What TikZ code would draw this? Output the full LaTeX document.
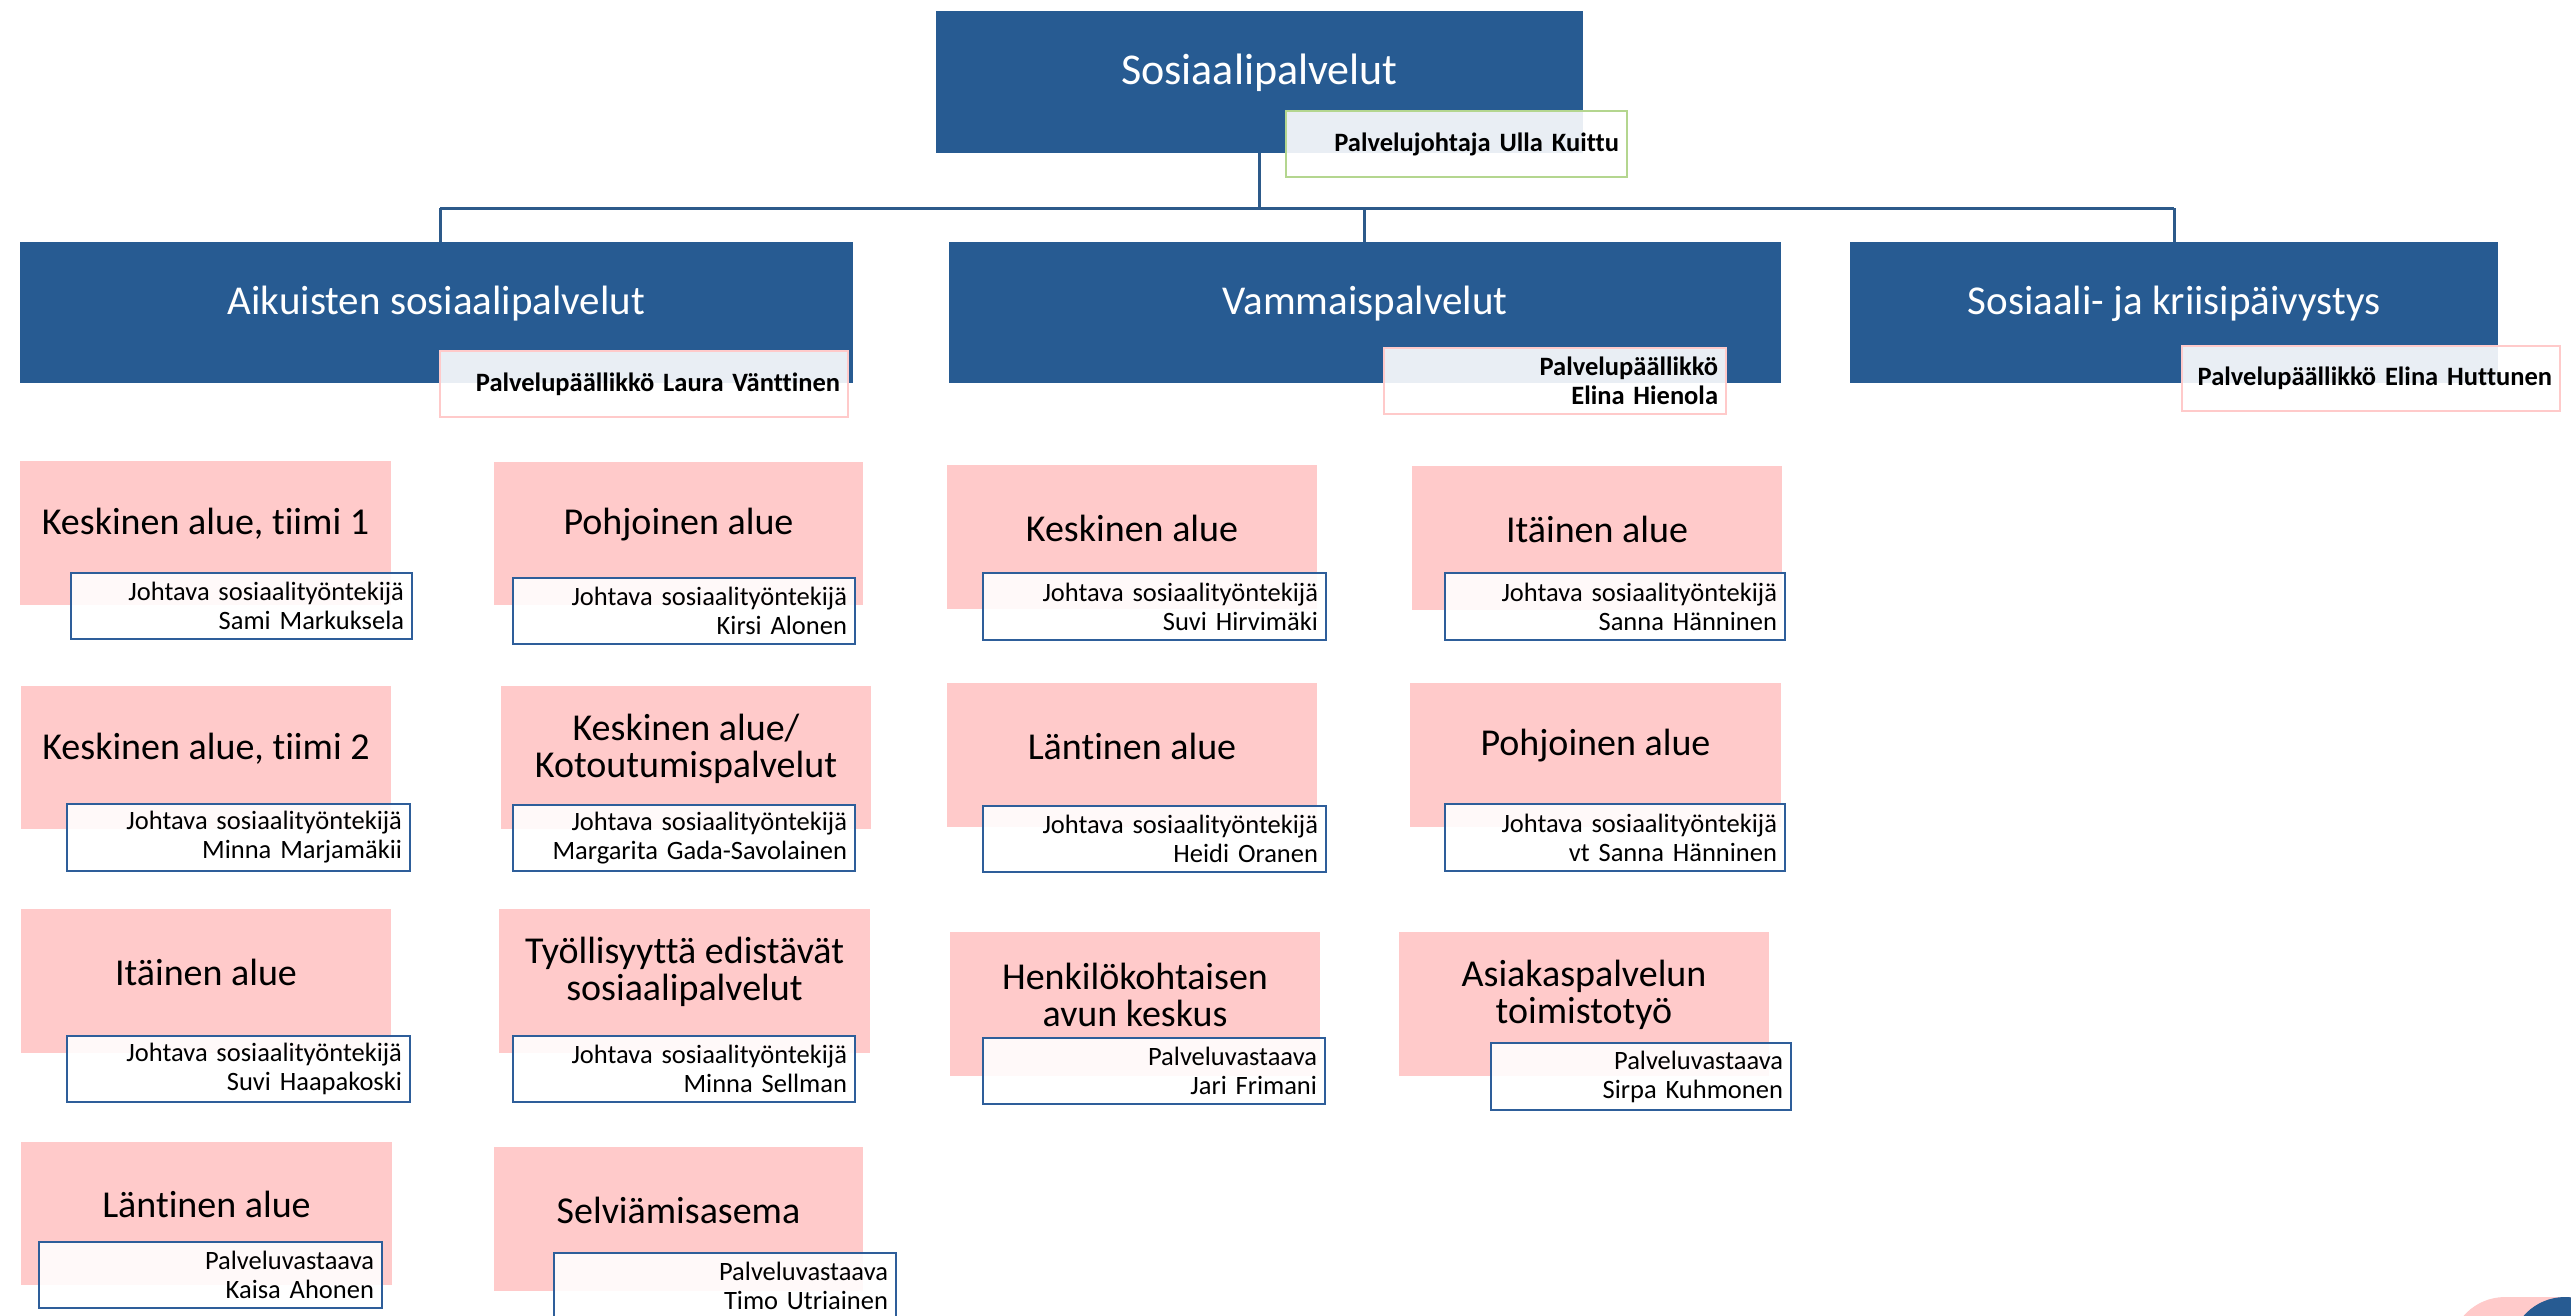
\documentclass[tikz,border=0pt]{standalone}
\usepackage{fontspec}
\setmainfont{Carlito}[Ligatures=NoCommon]
\definecolor{blueC}{HTML}{275B92}
\definecolor{pinkC}{HTML}{FFCACA}
\definecolor{greenC}{HTML}{B4D68F}
\definecolor{lblBlue}{HTML}{2E5E9A}
\definecolor{connC}{HTML}{2D5A8A}
\tikzset{
  bluebox/.style={fill=blueC, draw=none, inner sep=0pt},
  pinkbox/.style={fill=pinkC, draw=none, inner sep=0pt},
  btitle/.style={text=white, font=\fontsize{41}{40}\selectfont, align=center, inner sep=0pt},
  ptitle/.style={text=black, font=\fontsize{38}{37}\selectfont, align=center, inner sep=0pt},
  lblbox/.style={draw=lblBlue, line width=2.5pt, fill=white, fill opacity=0.9, text opacity=1,
    inner xsep=8pt, inner ysep=0pt, align=right, font=\fontsize{26.5}{29}\selectfont},
  boldlbl/.style={line width=2.5pt, fill=white, fill opacity=0.9, text opacity=1,
    inner xsep=8pt, inner ysep=0pt, align=right, font=\bfseries\fontsize{26.5}{29}\selectfont},
  conn/.style={draw=connC, line width=3pt}
}
\newcommand\mkbox[6]{% style, name, x1,y1,x2,y2
  \pgfmathsetmacro\myW{#5-#3}\pgfmathsetmacro\myH{#6-#4}%
  \pgfmathsetmacro\myX{(#3+#5)/2}\pgfmathsetmacro\myY{(#4+#6)/2}%
  \node[#1, minimum width=\myW pt, minimum height=\myH pt] (#2) at (\myX,\myY) {};}
\newcommand\mktitle[4]{% style, name, box, text
  \path (#3.center) ++(0,-9) node[#1] (#2) {#4};}
\newcommand\mklbl[7]{% style, name, x1,y1,x2,y2, text
  \pgfmathsetmacro\myW{#5-#3}\pgfmathsetmacro\myH{#6-#4}%
  \pgfmathsetmacro\myT{#5-#3-16}%
  \pgfmathsetmacro\myX{(#3+#5)/2}\pgfmathsetmacro\myY{(#4+#6)/2}%
  \node[#1, minimum width=\myW pt, minimum height=\myH pt, text width=\myT pt] (#2) at (\myX,\myY) {#7};}
\begin{document}
\begin{tikzpicture}[x=1pt,y=-1pt]
\useasboundingbox (0,0) rectangle (2571,1315);
% top
\mkbox{bluebox}{top}{936}{11}{1583}{153}
\mktitle{btitle,font=\fontsize{44}{42}\selectfont}{topt}{top}{Sosiaalipalvelut}
\mklbl{boldlbl,draw=greenC}{topl}{1286}{111}{1627}{177}{Palvelujohtaja Ulla Kuittu}
% level 2
\mkbox{bluebox}{A}{20}{242}{853}{383}
\mktitle{btitle}{At}{A}{Aikuisten sosiaalipalvelut}
\mkbox{bluebox}{V}{949}{242}{1781}{383}
\mktitle{btitle}{Vt}{V}{Vammaispalvelut}
\mkbox{bluebox}{S}{1850}{242}{2498}{383}
\mktitle{btitle}{St}{S}{Sosiaali- ja kriisipäivystys}
\mklbl{boldlbl,draw=pinkC}{Al}{440}{351}{848}{417}{Palvelupäällikkö Laura Vänttinen}
\mklbl{boldlbl,draw=pinkC}{Vl}{1384}{348}{1726}{414}{Palvelupäällikkö\\Elina Hienola}
\mklbl{boldlbl,draw=pinkC}{Sl}{2182}{346}{2560}{411}{Palvelupäällikkö Elina Huttunen}
% connectors
\coordinate (bus) at (1259,208);
\coordinate (busA) at (440,208);
\coordinate (busV) at (1364,208);
\coordinate (busS) at (2174,208);
\draw[conn] (top.south -| bus) -- (bus);
\draw[conn] (busA) -- (busS);
\draw[conn] (busA) -- (busA |- A.north);
\draw[conn] (busV) -- (busV |- V.north);
\draw[conn] (busS) -- (busS |- S.north);
% column P
\mkbox{pinkbox}{P1}{20}{461}{391}{605}
\mktitle{ptitle}{P1t}{P1}{Keskinen alue, tiimi 1}
\mklbl{lblbox}{P1l}{71}{573}{412}{639}{Johtava sosiaalityöntekijä\\Sami Markuksela}
\mkbox{pinkbox}{P2}{21}{686}{391}{829}
\mktitle{ptitle}{P2t}{P2}{Keskinen alue, tiimi 2}
\mklbl{lblbox}{P2l}{67}{804}{410}{871}{Johtava sosiaalityöntekijä\\Minna Marjamäkii}
\mkbox{pinkbox}{P3}{21}{909}{391}{1053}
\mktitle{ptitle}{P3t}{P3}{Itäinen alue}
\mklbl{lblbox}{P3l}{67}{1036}{410}{1102}{Johtava sosiaalityöntekijä\\Suvi Haapakoski}
\mkbox{pinkbox}{P4}{21}{1142}{392}{1285}
\mktitle{ptitle}{P4t}{P4}{Läntinen alue}
\mklbl{lblbox}{P4l}{39}{1242}{382}{1308}{Palveluvastaava\\Kaisa Ahonen}
% column Q
\mkbox{pinkbox}{Q1}{494}{462}{863}{605}
\mktitle{ptitle}{Q1t}{Q1}{Pohjoinen alue}
\mklbl{lblbox}{Q1l}{513}{578}{855}{644}{Johtava sosiaalityöntekijä\\Kirsi Alonen}
\mkbox{pinkbox}{Q2}{501}{686}{871}{829}
\mktitle{ptitle}{Q2t}{Q2}{Keskinen alue/\\Kotoutumispalvelut}
\mklbl{lblbox}{Q2l}{513}{805}{855}{871}{Johtava sosiaalityöntekijä\\Margarita Gada-Savolainen}
\mkbox{pinkbox}{Q3}{499}{909}{870}{1053}
\mktitle{ptitle}{Q3t}{Q3}{Työllisyyttä edistävät\\sosiaalipalvelut}
\mklbl{lblbox}{Q3l}{513}{1036}{855}{1102}{Johtava sosiaalityöntekijä\\Minna Sellman}
\mkbox{pinkbox}{Q4}{494}{1147}{863}{1291}
\mktitle{ptitle}{Q4t}{Q4}{Selviämisasema}
\mklbl{lblbox}{Q4l}{554}{1253}{896}{1319}{Palveluvastaava\\Timo Utriainen}
% column R
\mkbox{pinkbox}{R1}{947}{465}{1317}{609}
\mktitle{ptitle}{R1t}{R1}{Keskinen alue}
\mklbl{lblbox}{R1l}{983}{573}{1326}{640}{Johtava sosiaalityöntekijä\\Suvi Hirvimäki}
\mkbox{pinkbox}{R2}{947}{683}{1317}{827}
\mktitle{ptitle}{R2t}{R2}{Läntinen alue}
\mklbl{lblbox}{R2l}{983}{806}{1326}{872}{Johtava sosiaalityöntekijä\\Heidi Oranen}
\mkbox{pinkbox}{R3}{950}{932}{1320}{1076}
\mktitle{ptitle}{R3t}{R3}{Henkilökohtaisen\\avun keskus}
\mklbl{lblbox}{R3l}{983}{1038}{1325}{1104}{Palveluvastaava\\Jari Frimani}
% column T
\mkbox{pinkbox}{T1}{1412}{466}{1782}{610}
\mktitle{ptitle}{T1t}{T1}{Itäinen alue}
\mklbl{lblbox}{T1l}{1445}{573}{1785}{640}{Johtava sosiaalityöntekijä\\Sanna Hänninen}
\mkbox{pinkbox}{T2}{1410}{683}{1781}{827}
\mktitle{ptitle}{T2t}{T2}{Pohjoinen alue}
\mklbl{lblbox}{T2l}{1445}{804}{1785}{871}{Johtava sosiaalityöntekijä\\vt Sanna Hänninen}
\mkbox{pinkbox}{T3}{1399}{932}{1769}{1076}
\mktitle{ptitle}{T3t}{T3}{Asiakaspalvelun\\toimistotyö}
\mklbl{lblbox}{T3l}{1491}{1043}{1791}{1110}{Palveluvastaava\\Sirpa Kuhmonen}
% corner decoration
\fill[pinkC, rounded corners=55pt] (2450,1297) rectangle (2700,1420);
\fill[blueC] (2565,1352) circle (55);
\end{tikzpicture}
\end{document}
